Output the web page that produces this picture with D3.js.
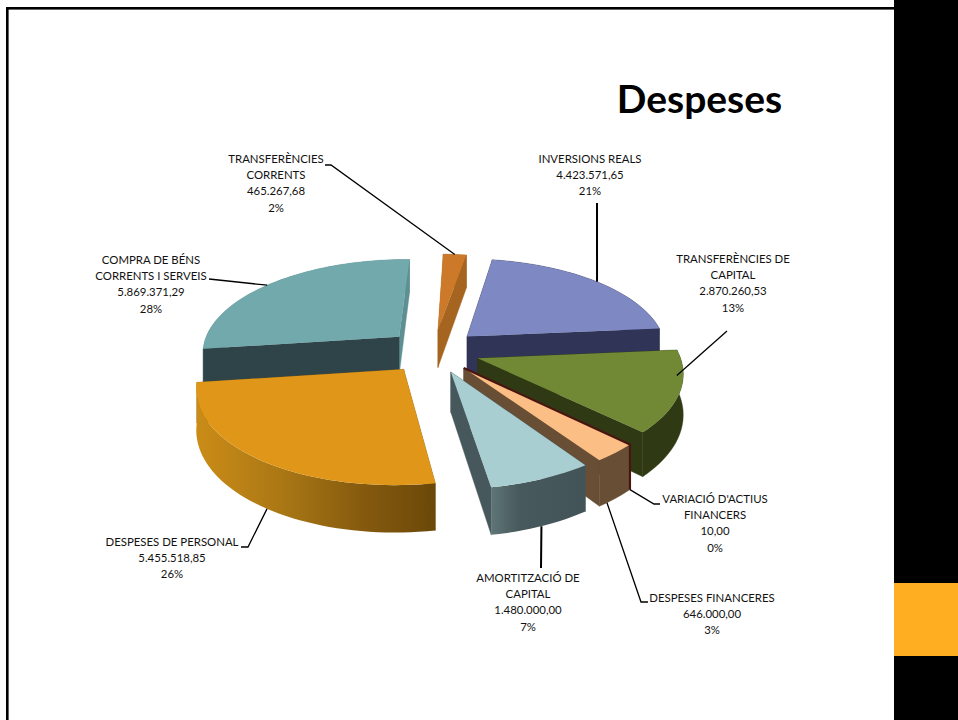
<!DOCTYPE html>
<html><head><meta charset="utf-8">
<script src="https://cdn.jsdelivr.net/npm/d3@7"></script>
<style>html,body{margin:0;padding:0;background:#fff}svg{display:block}text{font-family:Lato,"Open Sans",sans-serif}</style>
</head><body><svg id="c" width="958" height="720"></svg>
<script>
// data, clockwise from the top of the pie
const categories = [
  ["INVERSIONS REALS"],
  ["TRANSFERÈNCIES DE","CAPITAL"],
  ["VARIACIÓ D'ACTIUS","FINANCERS"],
  ["DESPESES FINANCERES"],
  ["AMORTITZACIÓ DE","CAPITAL"],
  ["DESPESES DE PERSONAL"],
  ["COMPRA DE BÉNS","CORRENTS I SERVEIS"],
  ["TRANSFERÈNCIES","CORRENTS"]
];
const amounts = [4423571.65, 2870260.53, 10.00, 646000.00, 1480000.00, 5455518.85, 5869371.29, 465267.68];
const percentLabels = ["21%","13%","0%","3%","7%","26%","28%","2%"];
const chartTitle = "Despeses";

// styling
const topColors   = ["#7E88C3","#718934","#4A1510","#FBBE84","#A9CED2","#E09719","#72A9AC","#CC7A2A"];
const wallColors  = ["#303557","#2F3A15","#4A1510","#674E35","url(#gAmort)","url(#gPers)","#5E8F92","#A5641F"];
const startColors = ["#303557","#2F3A15","#4A1510","#674E35","#46585C","#8a5f10","#2F4448","#A5641F"];
const endColors   = ["#303557","#2F3A15","#4A1510","#674E35","#46585C","#8a5f10","#5E8F92","#A5641F"];
const labelCx     = [590,733,715,712,528,172,151,276];
const labelTop    = [159,259,499,598,578,542,260,159];
// leader: start points in the label area, and where on the slice it lands
const leaderFrom  = [[[597,203]],[[727,331]],[[660,504],[654,504]],[[648,602],[641,602]],[[541,568]],[[241,547],[248,547]],[[209,279]],[[325,165],[331,165]]];
const leaderZ     = [0,0,1,1,1,1,0,0];
const leaderR     = [1,.97,1,1,1,1,1,1];
const leaderShift = [0.7,-9,0,3,0,-3,-2,0];
const leaderWidth = [2,1.3,1.3,1.3,2,1.3,1.3,1.3];

const W=958,H=720, cx=433, cy=351, R=199, EXPL=47, RHO=.466, PERSP=.00075, DEPTH=39, SHEAR_BACK=.03, SHEAR_FRONT=.015, ROLL=.018;
const lineH=16.2;

const svg=d3.select("#c");
const defs=svg.append("defs");
function grad(id,stops){const g=defs.append("linearGradient").attr("id",id);
  stops.forEach(s=>g.append("stop").attr("offset",s[0]).attr("stop-color",s[1]));}
grad("gPers",[[0,"#CB8C17"],[.35,"#AB7815"],[.7,"#855A0E"],[1,"#6B4809"]]);
grad("gAmort",[[0,"#5E7576"],[.3,"#47595C"],[1,"#435458"]]);

// frame
svg.append("rect").attr("x",0).attr("y",0).attr("width",W).attr("height",H).attr("fill","#fff");
svg.append("rect").attr("x",6).attr("y",7).attr("width",888).attr("height",2.6).attr("fill","#000");
svg.append("rect").attr("x",6).attr("y",7).attr("width",2.6).attr("height",713).attr("fill","#000");
svg.append("rect").attr("x",894).attr("y",0).attr("width",64).attr("height",H).attr("fill","#000");
svg.append("rect").attr("x",894).attr("y",583).attr("width",64).attr("height",73).attr("fill","#FFAD21");

svg.append("text").text(chartTitle).attr("x",699.5).attr("y",113).attr("text-anchor","middle")
  .attr("font-size",39).attr("font-weight",700).attr("fill","#000");

const deg=Math.PI/180;
const pie=d3.pie().sort(null).startAngle(12*deg).endAngle(372*deg)(amounts);

function project(X,Y,z){
  const s=1/(1-PERSP*Y);
  return [cx+s*X+(Y<0?SHEAR_BACK:SHEAR_FRONT)*Y, cy+s*Y*RHO-ROLL*X+s*z*DEPTH];
}
function pt(d,a,r,z){
  // the zero-width slice sits on its neighbour's explosion line
  const m=d.index===2 ? (pie[3].startAngle+pie[3].endAngle)/2 : (d.startAngle+d.endAngle)/2;
  const X=EXPL*Math.sin(m)+r*R*Math.sin(a), Y=-EXPL*Math.cos(m)-r*R*Math.cos(a);
  return {p:project(X,Y,z),Y};
}
const P=(d,a,r,z)=>pt(d,a,r,z).p;
const line=d3.line();
function rim(d,z,rev){
  const n=Math.max(2,Math.ceil((d.endAngle-d.startAngle)/(2*deg)));
  const angs=d3.range(n+1).map(i=>d.startAngle+(d.endAngle-d.startAngle)*i/n);
  if(rev)angs.reverse();
  return angs.map(a=>P(d,a,1,z));
}
// painter's order, back to front
const order=[7,6,0,1,3,2,4,5];
const g=svg.append("g");
order.forEach(i=>{
  const d=pie[i], sl=g.append("g");
  if(i===2){ // the zero-width slice reads as a dark edge line
    sl.append("path").attr("d",line([P(d,d.startAngle,0,0),P(d,d.startAngle,1,0),P(d,d.startAngle,1,1)]))
      .attr("fill","none").attr("stroke",topColors[i]).attr("stroke-width",2.2);
    return;
  }
  const apex0=P(d,0,0,0), apex1=P(d,0,0,1);
  const walls=[
    {Y:pt(d,d.startAngle,.5,0).Y, pts:[apex0,P(d,d.startAngle,1,0),P(d,d.startAngle,1,1),apex1], fill:startColors[i]},
    {Y:pt(d,d.endAngle,.5,0).Y, pts:[apex0,P(d,d.endAngle,1,0),P(d,d.endAngle,1,1),apex1], fill:endColors[i]},
    {Y:pt(d,(d.startAngle+d.endAngle)/2,1,0).Y, pts:rim(d,0).concat(rim(d,1,true)), fill:wallColors[i]}
  ].sort((a,b)=>a.Y-b.Y);
  walls.forEach(w=>{
    sl.append("path").attr("d",line(w.pts)+"Z").attr("fill",w.fill)
      .attr("stroke",w.fill.startsWith("url")?"none":w.fill).attr("stroke-width",.4);
  });
  sl.append("path").attr("d",line([apex0].concat(rim(d,0)))+"Z").attr("fill",topColors[i]);
});

// leaders
const lg=svg.append("g");
pie.forEach((d,i)=>{
  const m=(d.startAngle+d.endAngle)/2+leaderShift[i]*deg;
  const pts=leaderFrom[i].concat([P(d,m,leaderR[i],leaderZ[i])]);
  lg.append("path").attr("d",line(pts)).attr("fill","none").attr("stroke","#000").attr("stroke-width",leaderWidth[i]);
});

// labels
const fmt=d3.formatLocale({decimal:",",thousands:".",grouping:[3],currency:["",""]}).format(",.2f");
const tg=svg.append("g").attr("font-size",11.4).attr("fill","#111").attr("text-anchor","middle");
categories.forEach((c,i)=>{
  const lines=c.concat([fmt(amounts[i]),percentLabels[i]]);
  lines.forEach((t,j)=>tg.append("text").attr("x",labelCx[i]).attr("y",labelTop[i]+4+j*lineH).text(t));
});
</script></body></html>
